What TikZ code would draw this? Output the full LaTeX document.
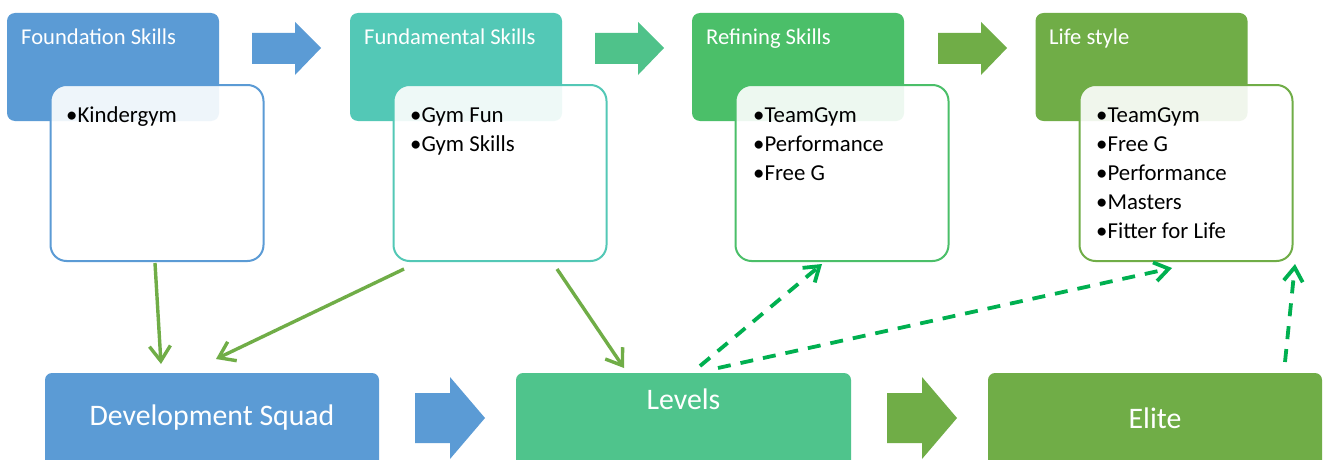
\documentclass[tikz,border=0pt]{standalone}
\usepackage{fontspec}
\setmainfont{Carlito}
\usetikzlibrary{arrows.meta}
\definecolor{cblue}{HTML}{5B9BD5}
\definecolor{cteal}{HTML}{53C8B6}
\definecolor{cgreen}{HTML}{4BBF69}
\definecolor{colive}{HTML}{70AD47}
\definecolor{clevels}{HTML}{4FC48C}
\definecolor{carrow}{HTML}{4FC28A}
\definecolor{cdash}{HTML}{00B050}
\tikzset{
  header/.style={rectangle, rounded corners=8pt, minimum width=212pt, minimum height=108pt, inner sep=0pt, draw=none},
  htext/.style={anchor=base west, inner sep=0pt, text=white, font=\fontsize{22.6}{26}\selectfont},
  wbox/.style={rectangle, rounded corners=16pt, minimum width=213pt, minimum height=176pt, inner sep=0pt, line width=2pt, fill=white, fill opacity=0.9, draw opacity=1},
  blist/.style={anchor=north west, inner sep=0pt, align=left, text=black, font=\fontsize{22.8}{29}\selectfont},
  bottombox/.style={rectangle, rounded corners=7pt, minimum width=334pt, minimum height=100pt, inner sep=0pt, draw=none},
  btext/.style={text=white, font=\fontsize{29.8}{34}\selectfont, inner sep=0pt},
  flow/.style={draw=colive, line width=3.4pt, -{Straight Barb[length=15pt,width=21pt,line width=3.4pt]}},
  dflow/.style={draw=cdash, line width=3.8pt, dash pattern=on 13pt off 10pt, -{Straight Barb[length=14pt,width=19pt,line width=3.8pt]}}
}
\begin{document}
\begin{tikzpicture}[x=1pt,y=-1pt]
\useasboundingbox (0,0) rectangle (1327,460);
\clip (0,0) rectangle (1327,460);
\fill[white] (0,0) rectangle (1327,460);

% headers
\node[header, fill=cblue]  (h1) at (113,67) {};
\node[header, fill=cteal]  (h2) at (456,67) {};
\node[header, fill=cgreen] (h3) at (798,67) {};
\node[header, fill=colive] (h4) at (1141.5,67) {};
\node[htext] (t1) at (21,45) {Foundation Skills};
\node[htext] (t2) at (364,45) {Fundamental Skills};
\node[htext] (t3) at (706,45) {Refining Skills};
\node[htext] (t4) at (1049,45) {Life style};

% white boxes
\node[wbox, draw=cblue]  (w1) at (157,173) {};
\node[wbox, draw=cteal]  (w2) at (500,173) {};
\node[wbox, draw=cgreen] (w3) at (842,173) {};
\node[wbox, draw=colive] (w4) at (1186,173) {};

\node[blist] (l1) at (66,102) {\rule{0pt}{20pt}\textbullet Kindergym};
\node[blist] (l2) at (410,102) {\rule{0pt}{20pt}\textbullet Gym Fun\\\textbullet Gym Skills};
\node[blist] (l3) at (753,102) {\rule{0pt}{20pt}\textbullet TeamGym\\\textbullet Performance\\\textbullet Free G};
\node[blist] (l4) at (1096,102) {\rule{0pt}{20pt}\textbullet TeamGym\\\textbullet Free G\\\textbullet Performance\\\textbullet Masters\\\textbullet Fitter for Life};

% top block arrows
\fill[cblue]  (252,33) -- (295,33) -- (295,22) -- (321,48) -- (295,75) -- (295,64) -- (252,64) -- cycle;
\fill[carrow] (595,33) -- (638,33) -- (638,22) -- (664,48) -- (638,75) -- (638,64) -- (595,64) -- cycle;
\fill[colive] (938,33) -- (981,33) -- (981,22) -- (1007,48) -- (981,75) -- (981,64) -- (938,64) -- cycle;

% bottom boxes
\node[bottombox, fill=cblue, label={[btext, yshift=5pt]center:Development Squad}] (dev) at (212,423) {};
\node[bottombox, fill=clevels, minimum width=335pt] (lev) at (683.5,423) {};
\node[btext] (levt) at (683.5,399) {Levels};
\node[bottombox, fill=colive, label={[btext, yshift=5pt]center:Elite}] (eli) at (1155,423) {};

% bottom block arrows
\fill[cblue]  (415,393) -- (450,393) -- (450,377) -- (485,418) -- (450,459) -- (450,443) -- (415,443) -- cycle;
\fill[colive] (887,393) -- (922,393) -- (922,377) -- (957,418) -- (922,459) -- (922,443) -- (887,443) -- cycle;

% connector end points
\coordinate (a1s) at (155,263);
\coordinate (a1e) at (161,364);
\coordinate (a2s) at (404,269);
\coordinate (a2e) at (216,359);
\coordinate (a3s) at (557,269);
\coordinate (a3e) at (624,368);
\coordinate (d1s) at (700,366);
\coordinate (d1e) at (822,264);
\coordinate (d2s) at (718,368);
\coordinate (d2e) at (1172,268);
\coordinate (d3s) at (1285,362);
\coordinate (d3e) at (1295,264);

\draw[flow] (a1s) -- (a1e);
\draw[flow] (a2s) -- (a2e);
\draw[flow] (a3s) -- (a3e);
\draw[dflow] (d1s) -- (d1e);
\draw[dflow] (d2s) -- (d2e);
\draw[dflow] (d3s) -- (d3e);
\end{tikzpicture}
\end{document}
